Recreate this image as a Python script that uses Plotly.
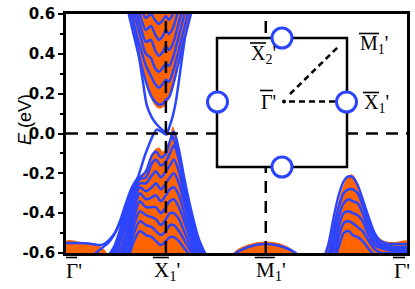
import plotly.graph_objects as go

# ---------------- data ----------------
K_TICKS = [0, 1, 2, 3.414]
K_LABELS = ["Γ'", "X<sub>1</sub>'", "M<sub>1</sub>'", "Γ'"]
E_TICKS = [0.6, 0.4, 0.2, 0.0, -0.2, -0.4, -0.6]
E_LABELS = ["0.6", "0.4", "0.2", "0.0", "-0.2", "-0.4", "-0.6"]

# bulk projections (orange) outlines
CBF_K = [0.58, 0.62, 0.69, 0.75, 0.80, 0.85, 0.89, 0.93, 0.97, 1.00, 1.03, 1.07, 1.12, 1.18, 1.25, 1.29]
CBF_E = [0.66, 0.60, 0.46, 0.34, 0.25, 0.18, 0.14, 0.125, 0.13, 0.15, 0.17, 0.22, 0.32, 0.45, 0.60, 0.66]

VBF_K = [0.45, 0.50, 0.56, 0.62, 0.68, 0.74, 0.79, 0.84, 0.89, 0.93, 0.97, 1.01, 1.04, 1.07, 1.10, 1.14, 1.19, 1.25, 1.31, 1.37, 1.44]
VBF_E = [-0.63, -0.57, -0.46, -0.34, -0.25, -0.215, -0.20, -0.14, -0.08, -0.07, -0.09, -0.06, -0.02, 0.035, -0.02, -0.12, -0.24, -0.37, -0.49, -0.57, -0.63]

GBF_K = [0.0, 0.0, 0.15, 0.30, 0.38, 0.44]
GBF_E = [-0.63, -0.54, -0.545, -0.555, -0.58, -0.63]

MBF_K = [1.62, 1.72, 1.85, 2.00, 2.15, 2.26, 2.34]
MBF_E = [-0.63, -0.58, -0.553, -0.542, -0.553, -0.58, -0.63]

RBF_K = [2.59, 2.65, 2.71, 2.77, 2.82, 2.86, 2.91, 2.97, 3.04, 3.11, 3.19, 3.30, 3.42, 3.42]
RBF_E = [-0.63, -0.52, -0.38, -0.27, -0.22, -0.205, -0.235, -0.32, -0.43, -0.51, -0.54, -0.545, -0.54, -0.63]

# bulk-like bands (blue) : conduction cone near X1'
CK = [0.55, 0.62, 0.69, 0.75, 0.80, 0.85, 0.89, 0.93, 0.97, 1.00, 1.03, 1.07, 1.12, 1.18, 1.25, 1.32]
C1 = [0.82, 0.62, 0.47, 0.35, 0.26, 0.19, 0.16, 0.145, 0.15, 0.17, 0.18, 0.24, 0.34, 0.46, 0.60, 0.74]
C2 = [0.88, 0.68, 0.53, 0.42, 0.34, 0.29, 0.25, 0.23, 0.25, 0.27, 0.26, 0.31, 0.40, 0.52, 0.66, 0.80]
C3 = [0.93, 0.74, 0.59, 0.48, 0.40, 0.38, 0.33, 0.31, 0.33, 0.35, 0.34, 0.38, 0.47, 0.59, 0.72, 0.86]
C4 = [0.98, 0.79, 0.64, 0.53, 0.46, 0.47, 0.42, 0.39, 0.41, 0.44, 0.42, 0.45, 0.54, 0.65, 0.78, 0.92]
C5 = [1.02, 0.84, 0.69, 0.58, 0.52, 0.54, 0.50, 0.47, 0.49, 0.52, 0.50, 0.53, 0.61, 0.71, 0.85, 0.98]
C6 = [1.06, 0.89, 0.74, 0.63, 0.58, 0.60, 0.57, 0.55, 0.57, 0.59, 0.57, 0.60, 0.67, 0.77, 0.90, 1.02]

# valence hump near X1'
VK = [0.40, 0.48, 0.55, 0.62, 0.68, 0.74, 0.80, 0.86, 0.90, 0.95, 1.00, 1.04, 1.08, 1.13, 1.19, 1.26, 1.33, 1.42]
V1 = [-0.63, -0.57, -0.47, -0.35, -0.26, -0.22, -0.19, -0.11, -0.09, -0.12, -0.10, -0.04, 0.01, -0.08, -0.24, -0.40, -0.53, -0.63]
V2 = [-0.63, -0.59, -0.50, -0.38, -0.28, -0.23, -0.22, -0.15, -0.13, -0.16, -0.14, -0.10, -0.06, -0.13, -0.28, -0.43, -0.56, -0.63]
V3 = [-0.63, -0.61, -0.53, -0.42, -0.31, -0.25, -0.25, -0.21, -0.19, -0.22, -0.19, -0.16, -0.13, -0.19, -0.32, -0.46, -0.58, -0.63]
V4 = [-0.63, -0.63, -0.57, -0.46, -0.34, -0.27, -0.29, -0.27, -0.25, -0.28, -0.25, -0.22, -0.20, -0.25, -0.36, -0.49, -0.60, -0.63]
V5 = [-0.63, -0.63, -0.60, -0.50, -0.38, -0.30, -0.33, -0.32, -0.31, -0.34, -0.31, -0.28, -0.27, -0.31, -0.41, -0.52, -0.62, -0.63]
V6 = [-0.63, -0.63, -0.62, -0.54, -0.42, -0.34, -0.37, -0.37, -0.37, -0.40, -0.37, -0.34, -0.33, -0.37, -0.45, -0.55, -0.63, -0.63]
V7 = [-0.63, -0.63, -0.63, -0.57, -0.46, -0.39, -0.41, -0.42, -0.43, -0.46, -0.43, -0.40, -0.40, -0.43, -0.50, -0.58, -0.63, -0.63]
V8 = [-0.63, -0.63, -0.63, -0.60, -0.50, -0.44, -0.46, -0.47, -0.49, -0.51, -0.49, -0.46, -0.46, -0.49, -0.54, -0.60, -0.63, -0.63]
V9 = [-0.63, -0.63, -0.63, -0.62, -0.54, -0.49, -0.51, -0.52, -0.54, -0.56, -0.54, -0.52, -0.52, -0.54, -0.58, -0.62, -0.63, -0.63]

# surface states
SSL_K = [0.00, 0.12, 0.24, 0.32, 0.38, 0.44, 0.50, 0.56, 0.62, 0.68, 0.74, 0.79, 0.84, 0.88, 0.91, 0.95, 1.00, 1.04, 1.08, 1.12, 1.18, 1.25]
SSL_E = [-0.55, -0.55, -0.553, -0.56, -0.555, -0.53, -0.49, -0.43, -0.36, -0.28, -0.19, -0.11, -0.045, 0.0, 0.02, 0.01, -0.005, 0.0, -0.03, -0.10, -0.24, -0.40]
SSU_K = [0.66, 0.72, 0.77, 0.81, 0.86, 0.91, 0.96, 1.01, 1.04, 1.07, 1.10, 1.14, 1.19]
SSU_E = [0.60, 0.42, 0.26, 0.14, 0.08, 0.045, 0.02, 0.005, 0.04, 0.09, 0.16, 0.30, 0.48]
SSB_K = [0.24, 0.30, 0.36, 0.42, 0.48, 0.54, 0.60, 0.66, 0.72]
SSB_E = [-0.63, -0.60, -0.575, -0.55, -0.51, -0.44, -0.35, -0.27, -0.22]

# band around M1'
MK = [1.62, 1.70, 1.80, 1.90, 2.00, 2.10, 2.20, 2.30, 2.36]
M1 = [-0.63, -0.60, -0.575, -0.56, -0.555, -0.56, -0.575, -0.60, -0.63]

# bands between M1' and Gamma'
RK = [2.58, 2.63, 2.68, 2.73, 2.78, 2.83, 2.87, 2.92, 2.97, 3.03, 3.09, 3.15, 3.22, 3.30, 3.42]
R1 = [-0.63, -0.55, -0.42, -0.31, -0.24, -0.215, -0.22, -0.26, -0.33, -0.42, -0.50, -0.54, -0.553, -0.555, -0.555]
R2 = [-0.63, -0.60, -0.48, -0.37, -0.30, -0.28, -0.28, -0.30, -0.36, -0.45, -0.52, -0.555, -0.565, -0.57, -0.57]
R3 = [-0.63, -0.63, -0.53, -0.42, -0.35, -0.33, -0.34, -0.35, -0.40, -0.48, -0.54, -0.565, -0.575, -0.58, -0.58]
R4 = [-0.63, -0.63, -0.58, -0.47, -0.40, -0.39, -0.40, -0.41, -0.44, -0.51, -0.56, -0.575, -0.585, -0.59, -0.59]
R5 = [-0.63, -0.63, -0.62, -0.52, -0.45, -0.44, -0.45, -0.47, -0.49, -0.54, -0.58, -0.60, -0.60, -0.60, -0.60]
R6 = [-0.63, -0.63, -0.63, -0.57, -0.50, -0.49, -0.51, -0.52, -0.54, -0.58, -0.61, -0.63, -0.63, -0.63, -0.63]

ORANGE = "#ff6400"
BLUE = "#2b45ff"

fig = go.Figure()

for kx, ey in [(GBF_K, GBF_E), (CBF_K, CBF_E), (VBF_K, VBF_E), (MBF_K, MBF_E), (RBF_K, RBF_E)]:
    fig.add_trace(go.Scatter(x=kx, y=ey, mode="lines", fill="toself", fillcolor=ORANGE,
                             line=dict(width=0, color=ORANGE, shape="spline"), hoverinfo="skip"))

bands = [(CK, c) for c in (C6, C5, C4, C3, C2, C1)]
bands += [(VK, v) for v in (V9, V8, V7, V6, V5, V4, V3, V2, V1)]
bands += [(SSB_K, SSB_E), (SSL_K, SSL_E), (SSU_K, SSU_E), (MK, M1)]
bands += [(RK, r) for r in (R6, R5, R4, R3, R2, R1)]
for kx, ey in bands:
    fig.add_trace(go.Scatter(x=kx, y=ey, mode="lines",
                             line=dict(width=2.5, color=BLUE, shape="spline", smoothing=0.8),
                             hoverinfo="skip"))

# ---------------- decorations ----------------
L, R, T, B = 66, 8, 14, 36
W, H = 415, 289
PW, PH = W - L - R, H - T - B

def px(x):
    return (x - L) / PW

def py(y):
    return (H - B - y) / PH

SERIF = "Liberation Serif, Times New Roman, serif"
DASH = "12px,8px"
shapes = [
    dict(type="line", xref="x", yref="y", x0=0, x1=K_TICKS[-1], y0=0, y1=0,
         line=dict(color="black", width=2.5, dash=DASH), layer="above"),
    dict(type="line", xref="x", yref="y", x0=K_TICKS[1], x1=K_TICKS[1], y0=-0.6, y1=0.6,
         line=dict(color="black", width=2.5, dash=DASH), layer="above"),
    dict(type="line", xref="x", yref="y", x0=K_TICKS[2], x1=K_TICKS[2], y0=-0.6, y1=0.6,
         line=dict(color="black", width=2.5, dash=DASH), layer="above"),
    # inset square
    dict(type="rect", xref="paper", yref="paper", x0=px(217), x1=px(347), y0=py(167), y1=py(38),
         fillcolor="white", line=dict(color="black", width=2.5), layer="above"),
    dict(type="line", xref="paper", yref="paper", x0=px(290), x1=px(339), y0=py(94), y1=py(46),
         line=dict(color="black", width=2.5, dash="6px,4px"), layer="above"),
    dict(type="line", xref="paper", yref="paper", x0=px(289), x1=px(337), y0=py(101.5), y1=py(101.5),
         line=dict(color="black", width=2.5, dash="6px,4px"), layer="above"),
    dict(type="circle", xref="paper", yref="paper", x0=px(282), x1=px(286), y0=py(103.5), y1=py(99.5),
         fillcolor="black", line=dict(color="black", width=0), layer="above"),
]
for cx, cy in [(282, 38), (282, 167), (217.5, 102), (346.5, 102)]:
    shapes.append(dict(type="circle", xref="paper", yref="paper",
                       x0=px(cx - 10), x1=px(cx + 10), y0=py(cy + 10), y1=py(cy - 10),
                       fillcolor="white", line=dict(color=BLUE, width=3), layer="above"))

annotations = [
    dict(text="<i>E</i> (eV)", xref="paper", yref="paper", x=px(13), y=py(120), textangle=-90,
         showarrow=False, font=dict(family="Liberation Sans, Arial", size=18, color="black")),
]

# x-axis labels (left edge offset in px from each tick) with over-bars
X_LABEL_OFF = [-2, -14, -12, -15]
BAR_LEN = [12, 16, 20, 12]
for k, lab, off, bl in zip(K_TICKS, K_LABELS, X_LABEL_OFF, BAR_LEN):
    annotations.append(dict(text=lab, xref="x", yref="paper", x=k, xshift=off, xanchor="left",
                            y=py(271), yanchor="middle", showarrow=False,
                            font=dict(family=SERIF, size=21, color="black")))
    shapes.append(dict(type="line", xref="x", yref="paper", xsizemode="pixel", xanchor=k,
                       x0=off + 1, x1=off + 1 + bl, y0=py(257.5), y1=py(257.5),
                       line=dict(color="black", width=1.6), layer="above"))

# inset labels: (text, left px, center y px, bar length, bar y)
INSET = [("Γ'", 260, 102, 13, 90.5), ("X<sub>2</sub>'", 250, 54, 16, 43),
         ("M<sub>1</sub>'", 359, 44, 20, 33.5), ("X<sub>1</sub>'", 363, 103, 16, 92.5)]
for txt, lx, cy, bl, by in INSET:
    annotations.append(dict(text=txt, xref="paper", yref="paper", x=px(lx - 1), y=py(cy),
                            xanchor="left", yanchor="middle", showarrow=False,
                            font=dict(family=SERIF, size=20, color="black")))
    shapes.append(dict(type="line", xref="paper", yref="paper", x0=px(lx), x1=px(lx + bl),
                       y0=py(by), y1=py(by), line=dict(color="black", width=1.6), layer="above"))

fig.update_layout(
    width=W, height=H, margin=dict(l=L, r=R, t=T, b=B, autoexpand=False),
    paper_bgcolor="white", plot_bgcolor="white", showlegend=False,
    shapes=shapes, annotations=annotations,
    xaxis=dict(range=[0, K_TICKS[-1]], tickvals=K_TICKS, showticklabels=False, ticks="",
               automargin=False, showgrid=False, zeroline=False, showline=True, mirror=True,
               linecolor="black", linewidth=2.5),
    yaxis=dict(range=[-0.6, 0.6], tickvals=E_TICKS, ticktext=E_LABELS, ticks="outside", ticklen=5,
               tickwidth=2, tickcolor="black", automargin=False, showgrid=False, zeroline=False,
               showline=True, mirror=True, linecolor="black", linewidth=2.5,
               minor=dict(dtick=0.1, ticks="outside", ticklen=3, tickwidth=2, tickcolor="black"),
               tickfont=dict(family="DejaVu Sans", size=15, color="black", weight="bold")),
)

fig.write_html("out.html", config={"displayModeBar": False},
               post_script="document.body.style.margin='0px';document.body.style.padding='0px';")
